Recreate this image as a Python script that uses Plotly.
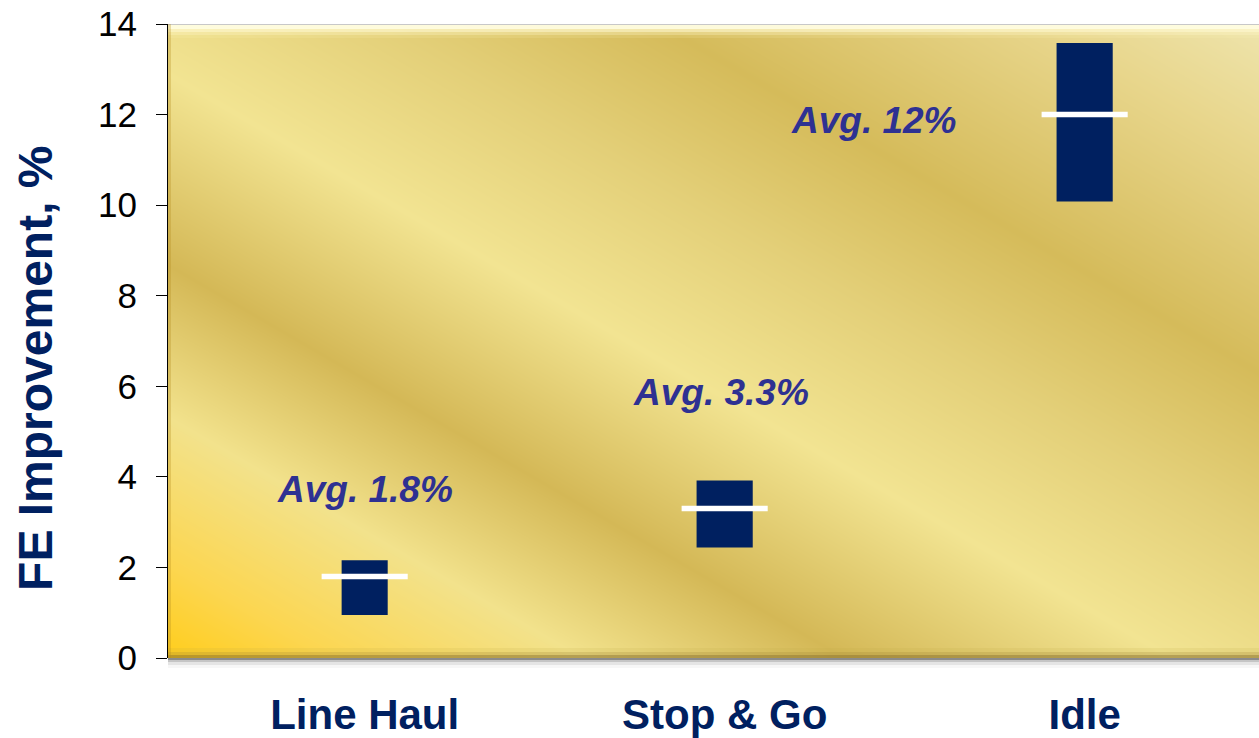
import plotly.graph_objects as go

# ---- data -------------------------------------------------------------
categories = ["Line Haul", "Stop & Go", "Idle"]
range_low = [0.95, 2.44, 10.08]
range_high = [2.16, 3.92, 13.58]
average = [1.8, 3.3, 12]
y_ticks = [0, 2, 4, 6, 8, 10, 12, 14]

# ---- style ------------------------------------------------------------
NAVY = "#002060"
LABEL_BLUE = "#2E3192"
FONT = "Arial, 'Liberation Sans', sans-serif"

X_RANGE = [-0.5463, 2.4843]
Y_RANGE = [0, 14]
BAR_WIDTHS = [0.128, 0.156, 0.156]
# (x offset from the bar, y position) for each "Avg." label
LABEL_POS = [(0.0, 3.73), (-0.01, 5.86), (-0.585, 11.86)]

W, H = 1259, 738
M = dict(l=168, r=0, t=24, b=78)
PLOT_H = H - M["t"] - M["b"]
PLOT_W = W - M["l"] - M["r"]

xs = list(range(len(categories)))

fig = go.Figure()

# gold backdrop: diagonal light/dark bands running from upper left to lower right
gold = [
    [0.000, "rgb(238,228,172)"],
    [0.100, "rgb(232,214,140)"],
    [0.275, "rgb(213,187,90)"],
    [0.400, "rgb(227,207,120)"],
    [0.540, "rgb(242,228,146)"],
    [0.690, "rgb(212,184,86)"],
    [0.810, "rgb(242,226,140)"],
    [0.925, "rgb(252,214,80)"],
    [1.000, "rgb(255,205,28)"],
]
fig.add_trace(go.Heatmap(
    x=X_RANGE, y=Y_RANGE, z=[[1, 0], [0, -1]],
    zmin=-1, zmax=1, zsmooth="best", colorscale=gold,
    showscale=False, hoverinfo="skip",
))

# min-max range of each duty cycle
fig.add_trace(go.Bar(
    x=xs,
    y=[h - l for l, h in zip(range_low, range_high)],
    base=range_low,
    width=BAR_WIDTHS,
    marker=dict(color=NAVY, line=dict(width=0)),
    hoverinfo="skip",
))

# average marker (line-ew spans 1.4 x size pixels)
fig.add_trace(go.Scatter(
    x=xs, y=average, mode="markers",
    marker=dict(symbol="line-ew", size=61.5, color="white",
                line=dict(color="white", width=5.5)),
    hoverinfo="skip",
))

annotations = []
for i, a in enumerate(average):
    dx, ly = LABEL_POS[i]
    annotations.append(dict(
        x=xs[i] + dx, y=ly, xref="x", yref="y",
        text=f"<b><i>Avg. {a}%</i></b>", showarrow=False,
        xanchor="center", yanchor="middle",
        font=dict(family=FONT, size=37, color=LABEL_BLUE),
    ))

# y-axis title
annotations.append(dict(
    x=-132 / PLOT_W, y=290 / PLOT_H, xref="paper", yref="paper",
    text="<b>FE Improvement, %</b>", textangle=-90, showarrow=False,
    xanchor="center", yanchor="middle",
    font=dict(family=FONT, size=48, color=NAVY),
))

# bevel / shadow around the plot area (paper coordinates, pixel steps)
def px_y(p):
    return p / PLOT_H

def px_x(p):
    return p / PLOT_W

shapes = []
def band(y0, y1, color, x0=0, x1=1):
    shapes.append(dict(type="rect", xref="paper", yref="paper",
                       x0=x0, x1=x1, y0=y0, y1=y1,
                       fillcolor=color, line=dict(width=0), layer="above"))

# top highlight
band(1 - px_y(1), 1, "rgb(200,200,200)")
band(1 - px_y(5), 1 - px_y(1), "rgba(255,253,225,0.95)")
band(1 - px_y(8), 1 - px_y(5), "rgba(255,250,210,0.7)")
band(1 - px_y(11), 1 - px_y(8), "rgba(255,248,200,0.4)")
band(1 - px_y(14), 1 - px_y(11), "rgba(255,245,190,0.15)")
# bottom inner shading
band(0, px_y(3), "rgba(140,115,45,0.6)")
band(px_y(3), px_y(6), "rgba(165,140,55,0.35)")
band(px_y(6), px_y(10), "rgba(190,165,70,0.15)")
# drop shadow below
band(-px_y(2), 0, "rgba(110,110,110,0.8)")
band(-px_y(4), -px_y(2), "rgba(140,140,140,0.5)")
band(-px_y(7), -px_y(4), "rgba(170,170,170,0.3)")
band(-px_y(10), -px_y(7), "rgba(200,200,200,0.15)")
# left inner edge
band(0, 1, "rgba(180,140,30,0.3)", x0=0, x1=px_x(3))

fig.update_layout(
    width=W, height=H, autosize=False,
    margin=M,
    paper_bgcolor="white",
    plot_bgcolor="rgba(0,0,0,0)",
    showlegend=False,
    font=dict(family=FONT),
    annotations=annotations,
    shapes=shapes,
    xaxis=dict(
        range=X_RANGE, tickvals=xs, ticktext=categories,
        showgrid=False, zeroline=False, showline=False, ticks="",
        ticklabelstandoff=28,
        tickfont=dict(family=FONT, size=42, color=NAVY, weight="bold"),
    ),
    yaxis=dict(
        range=Y_RANGE, tickvals=y_ticks,
        showgrid=False, zeroline=False,
        showline=True, linecolor="black", linewidth=1,
        ticks="outside", ticklen=11, tickcolor="black", tickwidth=1,
        ticklabelstandoff=12,
        tickfont=dict(family=FONT, size=35, color="black"),
    ),
)

fig.write_html("out.html")
